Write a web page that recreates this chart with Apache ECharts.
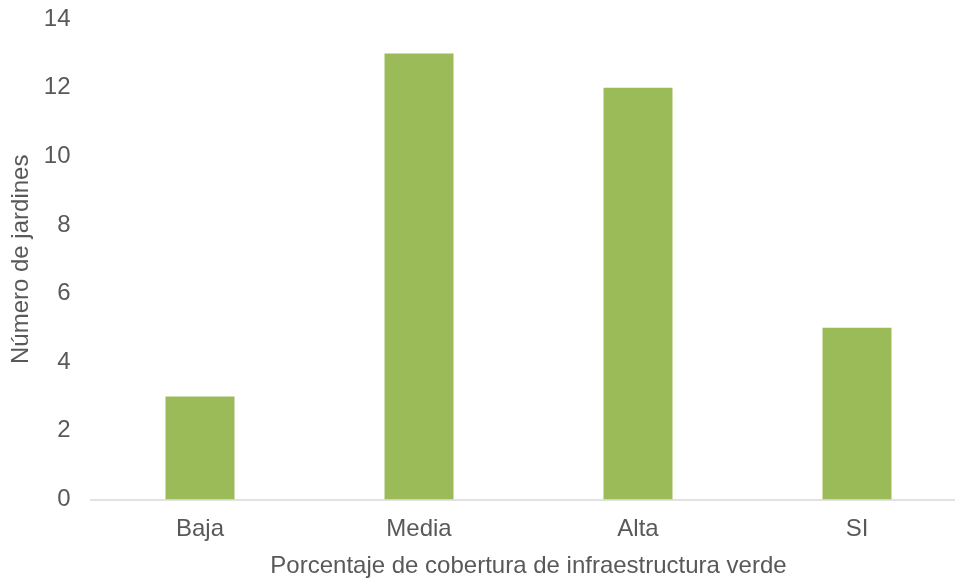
<!DOCTYPE html>
<html>
<head>
<meta charset="utf-8">
<script src="https://cdn.jsdelivr.net/npm/echarts@6/dist/echarts.min.js"></script>
<style>
  html, body { margin: 0; padding: 0; background: #ffffff; }
  #chart { width: 955px; height: 579px; }
</style>
</head>
<body>
<div id="chart"></div>
<script>
// Gardens per green-infrastructure coverage level
const categories = ['Baja', 'Media', 'Alta', 'SI'];
const gardenCounts = [3, 13, 12, 5];
const yTicks = { min: 0, max: 14, interval: 2 };

const textColor = '#595959';
const fontFamily = '"Liberation Sans", Arial, sans-serif';

const chart = echarts.init(document.getElementById('chart'), null, { renderer: 'canvas' });
chart.setOption({
  animation: false,
  backgroundColor: '#ffffff',
  grid: {
    left: 90.5, top: 19.3, width: 876, height: 480,
    containLabel: false,
    outerBoundsMode: 'none'
  },
  xAxis: {
    type: 'category',
    data: categories,
    name: 'Porcentaje de cobertura de infraestructura verde',
    nameLocation: 'middle',
    nameGap: 55,
    nameTextStyle: { color: textColor, fontSize: 24, fontFamily },
    axisLine: { lineStyle: { color: '#d9d9d9', width: 1.5 } },
    axisTick: { show: false },
    axisLabel: { color: textColor, fontSize: 24, fontFamily, margin: 18 }
  },
  yAxis: {
    type: 'value',
    min: yTicks.min,
    max: yTicks.max,
    interval: yTicks.interval,
    name: 'Número de jardines',
    nameLocation: 'middle',
    nameGap: 55,
    nameTextStyle: { color: textColor, fontSize: 24, fontFamily },
    axisLine: { show: false },
    axisTick: { show: false },
    splitLine: { show: false },
    axisLabel: { color: textColor, fontSize: 24, fontFamily, margin: 20 }
  },
  series: [{
    type: 'bar',
    data: gardenCounts,
    barWidth: '31.5%',
    itemStyle: { color: '#9bbb59' }
  }]
});
</script>
</body>
</html>
